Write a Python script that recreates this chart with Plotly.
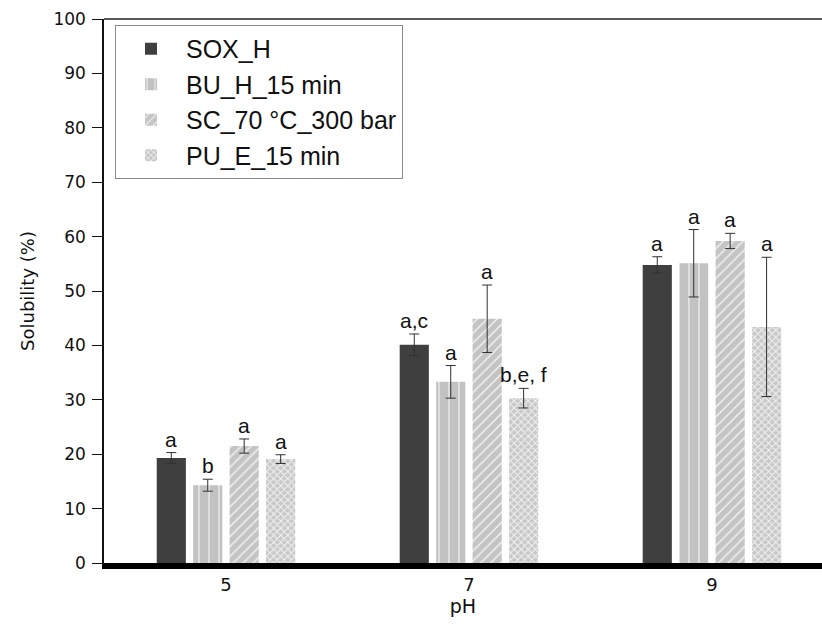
import plotly.graph_objects as go

ph_labels = ["5", "7", "9"]
series_names = ["SOX_H", "BU_H_15 min", "SC_70 °C_300 bar", "PU_E_15 min"]

sox_h = [19.3, 40.1, 54.8]
sox_h_err = [1.0, 2.0, 1.5]
bu_h = [14.3, 33.3, 55.1]
bu_h_err = [1.1, 3.0, 6.2]
sc = [21.5, 44.9, 59.2]
sc_err = [1.3, 6.2, 1.4]
pu_e = [19.1, 30.3, 43.4]
pu_e_err = [0.8, 1.8, 12.8]

sox_h_letters = ["a", "a,c", "a"]
bu_h_letters = ["b", "a", "a"]
sc_letters = ["a", "a", "a"]
pu_e_letters = ["a", "b,e, f", "a"]

values = [sox_h, bu_h, sc, pu_e]
errors = [sox_h_err, bu_h_err, sc_err, pu_e_err]
letters = [sox_h_letters, bu_h_letters, sc_letters, pu_e_letters]

ARIAL = "Liberation Sans, Arial, sans-serif"
WIDE = "DejaVu Sans, sans-serif"

styles = [
    dict(color="#3f3f3f", pattern=dict(shape="")),
    dict(color="#c2c2c2", pattern=dict(shape="|", fgcolor="#f2f2f2", bgcolor="#c2c2c2",
                                       size=10, solidity=0.12, fillmode="replace")),
    dict(color="#c4c4c4", pattern=dict(shape="/", fgcolor="#f4f4f4", bgcolor="#c4c4c4",
                                       size=7, solidity=0.2, fillmode="replace")),
    dict(color="#c8c8c8", pattern=dict(shape="x", fgcolor="#f4f4f4", bgcolor="#c8c8c8",
                                       size=5, solidity=0.35, fillmode="replace")),
]

fig = go.Figure()
for i, name in enumerate(series_names):
    fig.add_trace(go.Bar(
        x=ph_labels, y=values[i], name=name,
        marker=dict(color=styles[i]["color"], pattern=styles[i]["pattern"],
                    line=dict(width=0)),
        error_y=dict(type="data", array=errors[i], visible=True,
                     color="#303030", thickness=1, width=5),
    ))

slot_px = 36.5
for i in range(4):
    for j in range(len(ph_labels)):
        fig.add_annotation(
            x=j, y=values[i][j] + errors[i][j], xref="x", yref="y",
            text=letters[i][j], showarrow=False, yanchor="bottom",
            xshift=(i - 1.5) * slot_px, yshift=0,
            font=dict(family=ARIAL, size=21, color="#111"),
        )

fig.add_shape(type="line", xref="paper", yref="paper", x0=0, x1=1, y0=1, y1=1,
              line=dict(color="#222", width=1.5))

fig.update_layout(
    width=822, height=636,
    margin=dict(l=104, r=0, t=19, b=73),
    paper_bgcolor="white", plot_bgcolor="white",
    barmode="group", bargap=0.4, bargroupgap=0.2,
    font=dict(family=WIDE, size=17, color="#111"),
    showlegend=True,
    legend=dict(x=0.0153, y=0.989, xanchor="left", yanchor="top",
                bordercolor="#8a8a8a", borderwidth=1, bgcolor="white",
                font=dict(family=ARIAL, size=25, color="#111"),
                itemwidth=60, tracegroupgap=0, traceorder="normal"),
    xaxis=dict(type="category", range=[-0.502, 2.453], showgrid=False,
               showline=True, linecolor="black", linewidth=6,
               ticks="", tickfont=dict(family=WIDE, size=18), ticklabelstandoff=0,
               title=dict(text="pH", font=dict(family=WIDE, size=19), standoff=0)),
    yaxis=dict(range=[0, 100], dtick=10, showgrid=False, zeroline=False,
               showline=True, linecolor="#111", linewidth=1.5,
               ticks="outside", ticklen=10, tickwidth=1.2, tickcolor="#111",
               tickfont=dict(family=WIDE, size=17), ticklabelstandoff=3,
               title=dict(text="Solubility (%)", font=dict(family=WIDE, size=18), standoff=14)),
)

fig.write_html("out.html")
